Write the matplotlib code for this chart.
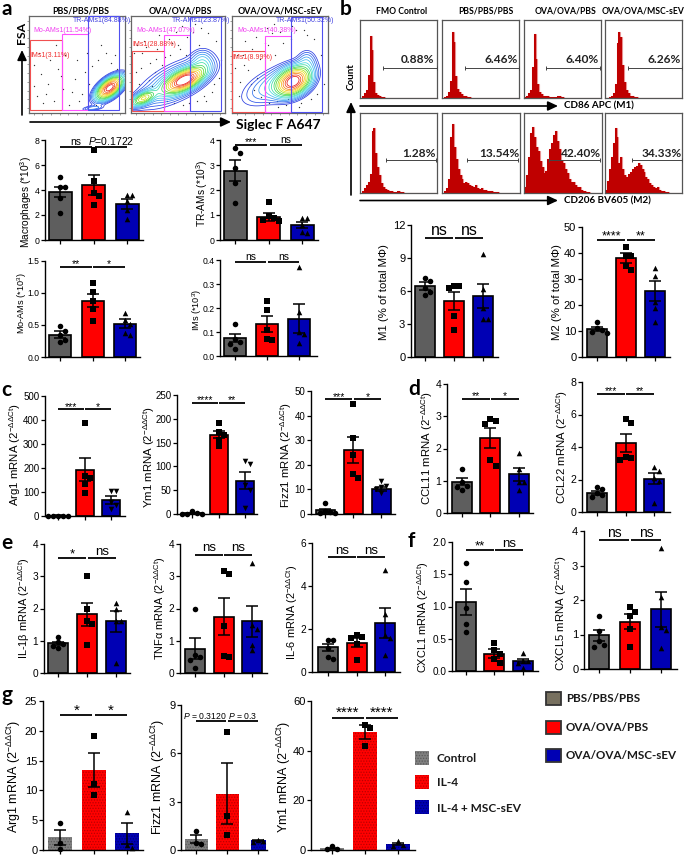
import numpy as np
import matplotlib
matplotlib.use("Agg")
import matplotlib.pyplot as plt
from matplotlib.patches import Rectangle

W, H = 685, 856

plt.rcParams["font.family"] = ["Liberation Sans", "DejaVu Sans"]
plt.rcParams["mathtext.fontset"] = "custom"
plt.rcParams["mathtext.rm"] = "Liberation Sans"
plt.rcParams["mathtext.it"] = "Liberation Sans:italic"
plt.rcParams["mathtext.bf"] = "Liberation Sans:bold"
plt.rcParams["mathtext.default"] = "regular"
plt.rcParams["hatch.linewidth"] = 0.6

GREY, RED, BLUE = "#5e5e5e", "#ff0000", "#0000b4"

# --- bar panels: mean, sem and single animals
macro_mean, macro_sem = [3.85, 4.4, 2.9], [0.4, 0.8, 0.4]
macro_pts = [[5.05, 4.25, 4.25, 3.4, 2.2], [7.2, 4.7, 3.75, 3.55, 2.8], [3.6, 3.6, 3.1, 2.4, 1.7]]
tr_mean, tr_sem = [2.77, 0.93, 0.6], [0.42, 0.15, 0.12]
tr_pts = [[3.7, 3.5, 2.87, 2.3, 1.5], [1.53, 0.95, 0.9, 0.8, 0.75], [0.87, 0.87, 0.6, 0.33, 0.3]]
mo_mean, mo_sem = [0.35, 0.88, 0.52], [0.06, 0.1, 0.07]
mo_pts = [[0.48, 0.4, 0.35, 0.27, 0.23], [1.15, 1.02, 0.88, 0.75, 0.57], [0.68, 0.58, 0.52, 0.37, 0.35]]
ims_mean, ims_sem = [0.075, 0.135, 0.155], [0.018, 0.033, 0.06]
ims_pts = [[0.135, 0.07, 0.06, 0.05, 0.03], [0.23, 0.19, 0.11, 0.07, 0.065], [0.37, 0.185, 0.1, 0.09, 0.055]]
m1_mean, m1_sem = [6.45, 5.1, 5.55], [0.35, 0.85, 1.1]
m1_pts = [[7.15, 6.95, 6.3, 5.9, 5.6], [6.45, 6.45, 6.3, 3.7, 2.45], [9.4, 6.2, 4.5, 3.45, 3.45]]
m2_mean, m2_sem = [10.8, 38, 25.5], [0.8, 1.9, 3.8]
m2_pts = [[13.3, 11, 10.2, 9.6, 9.3], [42.3, 39, 38.8, 35, 33.3], [34.2, 31, 21, 19, 13.3]]
arg_mean, arg_sem = [2, 192, 68], [1, 48, 16]
arg_pts = [[2, 2, 2, 2, 2], [388, 165, 160, 135, 95], [105, 105, 60, 45, 30]]
ym_mean, ym_sem = [2, 167, 70], [1, 8, 18]
ym_pts = [[6, 3, 1, 0, 0], [192, 173, 165, 155, 143], [112, 105, 60, 50, 12]]
fizz_mean, fizz_sem = [1.5, 26, 10.2], [0.7, 5.2, 0.9]
fizz_pts = [[4.3, 1.3, 0.9, 0.5, 0.3], [44.6, 30.8, 23.8, 16.1, 14.5], [13.5, 11.5, 11, 10, 8.5]]
ccl11_mean, ccl11_sem = [0.97, 2.33, 1.2], [0.11, 0.32, 0.2]
ccl11_pts = [[1.35, 0.95, 0.85, 0.8, 0.7], [2.9, 2.85, 2.75, 1.63, 1.47], [1.87, 1.37, 0.97, 0.95, 0.72]]
ccl22_mean, ccl22_sem = [1.17, 4.25, 2.05], [0.1, 0.57, 0.35]
ccl22_pts = [[1.55, 1.4, 1.15, 1.05, 0.9], [5.75, 5.45, 3.4, 3.35, 3.2], [2.75, 2.55, 2.1, 1.9, 0.55]]
il1_mean, il1_sem = [0.92, 1.82, 1.6], [0.05, 0.35, 0.33]
il1_pts = [[1.12, 0.95, 0.9, 0.85, 0.78], [3, 2, 1.62, 1.52, 0.87], [2.17, 1.98, 1.6, 1.6, 0.32]]
tnf_mean, tnf_sem = [0.75, 1.75, 1.6], [0.32, 0.58, 0.48]
tnf_pts = [[2, 0.55, 0.5, 0.4, 0.15], [3.15, 3.07, 1.47, 0.53, 0.5], [3.4, 1.5, 1.37, 0.88, 0.7]]
il6_mean, il6_sem = [1.15, 1.37, 2.28], [0.17, 0.2, 0.7]
il6_pts = [[1.5, 1.5, 1.1, 0.7, 0.6], [1.7, 1.65, 1.6, 1.3, 0.55], [4.75, 2.7, 1.7, 1.6, 0.8]]
cxcl1_mean, cxcl1_sem = [1.07, 0.27, 0.16], [0.2, 0.07, 0.03]
cxcl1_pts = [[1.67, 1.38, 0.97, 0.73, 0.6], [0.43, 0.33, 0.27, 0.19, 0.12], [0.28, 0.16, 0.15, 0.13, 0.05]]
cxcl5_mean, cxcl5_sem = [0.98, 1.37, 1.73], [0.16, 0.22, 0.5]
cxcl5_pts = [[1.53, 1.1, 0.8, 0.7, 0.65], [1.8, 1.65, 1.55, 1.15, 0.63], [3.5, 2.1, 1.22, 1.12, 0.62]]
garg_mean, garg_sem = [2.1, 13.4, 2.8], [1.2, 2.9, 1.75]
garg_pts = [[4.5, 1.1, 0.2], [19.2, 11, 9.3], [6.3, 0.9, 0.3]]
gfizz_mean, gfizz_sem = [0.68, 3.5, 0.6], [0.25, 1.9, 0.05]
gfizz_pts = [[1.15, 0.45, 0.4], [7.3, 2.1, 0.95], [0.65, 0.55, 0.5]]
gym_mean, gym_sem = [0.7, 47.5, 2.5], [0.3, 2.8, 0.5]
gym_pts = [[1.5, 0.4, 0.3], [50.2, 49, 42], [3.6, 2.2, 1.7]]

DD = "$^{-\\Delta\\Delta Ct}$"

# label, ticks, data, (left, right, y0, ytop), (c0, step, barw), label xy, bracket y, bracket texts, sizes (tick, label, sig)
PANELS = [
    dict(lab="Macrophages (*10$^{3}$)", ticks=[0, 2, 4, 6, 8], d=(macro_mean, macro_sem, macro_pts),
         box=(45, 143, 240, 140), bars=(60, 33.5, 23), lxy=(26, 202), by=7.45, sig=("ns", "$\\mathit{P}$=0.1722"), fs=(6.3, 7.3, 7.5)),
    dict(lab="TR-AMs (*10$^{3}$)", ticks=[0, 1, 2, 3, 4], d=(tr_mean, tr_sem, tr_pts),
         box=(220, 318, 240, 140), bars=(235, 33.5, 23), lxy=(202, 193), by=3.8, sig=("***", "ns"), fs=(6.3, 7.3, 7.5)),
    dict(lab="Mo-AMs (*10$^{3}$)", ticks=[0, 0.5, 1, 1.5], tl=["0.0", "0.5", "1.0", "1.5"], d=(mo_mean, mo_sem, mo_pts),
         box=(45, 140, 357, 261), bars=(60, 32.5, 22), lxy=(22.5, 303), by=1.41, sig=("**", "*"), fs=(6.2, 6.6, 7.5)),
    dict(lab="IMs (*10$^{3}$)", ticks=[0, 0.1, 0.2, 0.3, 0.4], tl=["0.0", "0.1", "0.2", "0.3", "0.4"], d=(ims_mean, ims_sem, ims_pts),
         box=(220, 317, 356, 260), bars=(235, 32, 22), lxy=(197, 310), by=0.39, sig=("ns", "ns"), fs=(6.2, 6.6, 7.5)),
    dict(lab="M1 (% of total M\u03a6)", ticks=[0, 3, 6, 9, 12], d=(m1_mean, m1_sem, m1_pts),
         box=(411, 498, 357, 225), bars=(425, 29, 20), lxy=(384, 292), by=10.8, sig=("ns", "ns"), fs=(8, 8.2, 11.5)),
    dict(lab="M2 (% of total M\u03a6)", ticks=[0, 10, 20, 30, 40, 50], d=(m2_mean, m2_sem, m2_pts),
         box=(582, 670, 357, 227), bars=(597, 29, 20), lxy=(557, 292), by=44.9, sig=("****", "**"), fs=(8, 8.2, 9)),
    dict(lab="Arg1 mRNA (2" + DD + ")", ticks=[0, 100, 200, 300, 400, 500], d=(arg_mean, arg_sem, arg_pts),
         box=(45, 125, 516, 396), bars=(58, 26.5, 18), lxy=(15.5, 455), by=444, sig=("***", "*"), fs=(7, 8.2, 7.5), m2="v"),
    dict(lab="Ym1 mRNA (2" + DD + ")", ticks=[0, 50, 100, 150, 200, 250], d=(ym_mean, ym_sem, ym_pts),
         box=(177, 257, 514, 395), bars=(192, 26.5, 18), lxy=(149.5, 457), by=234, sig=("****", "**"), fs=(7, 8.2, 7.5), m2="v"),
    dict(lab="Fizz1 mRNA (2" + DD + ")", ticks=[0, 10, 20, 30, 40, 50], d=(fizz_mean, fizz_sem, fizz_pts),
         box=(311, 395, 514, 391), bars=(325, 28, 19), lxy=(286, 455), by=46.6, sig=("***", "*"), fs=(7, 8.2, 7.5), m2="v"),
    dict(lab="CCL11 mRNA (2" + DD + ")", ticks=[0, 1, 2, 3, 4], d=(ccl11_mean, ccl11_sem, ccl11_pts),
         box=(447, 533, 513, 384), bars=(462, 28.5, 20), lxy=(427, 448), by=3.53, sig=("**", "*"), fs=(7.6, 8.2, 7.5)),
    dict(lab="CCL22 mRNA (2" + DD + ")", ticks=[0, 2, 4, 6, 8], d=(ccl22_mean, ccl22_sem, ccl22_pts),
         box=(582, 670, 512, 382), bars=(597, 28.5, 20), lxy=(562, 447), by=7.24, sig=("***", "**"), fs=(7.6, 8.2, 7.5)),
    dict(lab="IL-1\u03b2 mRNA (2" + DD + ")", ticks=[0, 1, 2, 3, 4], d=(il1_mean, il1_sem, il1_pts),
         box=(44, 130, 673, 544), bars=(58, 29, 20), lxy=(24, 608), by=3.57, sig=("*", "ns"), fs=(7.3, 7.9, 9.5)),
    dict(lab="TNF\u03b1 mRNA (2" + DD + ")", ticks=[0, 1, 2, 3, 4], d=(tnf_mean, tnf_sem, tnf_pts),
         box=(180, 267, 673, 544), bars=(195, 28.5, 20), lxy=(160, 608), by=3.67, sig=("ns", "ns"), fs=(7.3, 7.9, 9.5)),
    dict(lab="IL-6 mRNA (2" + DD + ")", ticks=[0, 2, 4, 6], d=(il6_mean, il6_sem, il6_pts),
         box=(312, 400, 672, 543), bars=(328, 28.5, 20), lxy=(292, 612), by=5.35, sig=("ns", "ns"), fs=(7.3, 7.9, 9.5)),
    dict(lab="CXCL1 mRNA (2" + DD + ")", ticks=[0, 0.5, 1, 1.5, 2], tl=["0.0", "0.5", "1.0", "1.5", "2.0"], d=(cxcl1_mean, cxcl1_sem, cxcl1_pts),
         box=(452, 538, 671, 542), bars=(466, 28.5, 20), lxy=(423, 617), by=1.87, sig=("**", "ns"), fs=(7.2, 7.9, 9.5)),
    dict(lab="CXCL5 mRNA (2" + DD + ")", ticks=[0, 1, 2, 3, 4], d=(cxcl5_mean, cxcl5_sem, cxcl5_pts),
         box=(584, 677, 669, 531), bars=(599, 31, 20), lxy=(561, 613), by=3.74, sig=("ns", "ns"), fs=(8, 8.2, 10)),
    dict(lab="Arg1 mRNA (2" + DD + ")", ticks=[0, 5, 10, 15, 20, 25], d=(garg_mean, garg_sem, garg_pts),
         box=(43, 143, 850, 701), bars=(60, 33.5, 24), lxy=(14, 777), by=22.6, sig=("*", "*"), fs=(8, 9, 11), dots=True),
    dict(lab="Fizz1 mRNA (2" + DD + ")", ticks=[0, 3, 6, 9], d=(gfizz_mean, gfizz_sem, gfizz_pts),
         box=(181, 267, 850, 705), bars=(196, 31, 23), lxy=(158, 777), by=8.0, sig=("$\\mathit{P}$ = 0.3120", "$\\mathit{P}$ = 0.3"), fs=(8, 9, 6.2), dots=True, bw2=15, sigdx=(-6, 0)),
    dict(lab="Ym1 mRNA (2" + DD + ")", ticks=[0, 20, 40, 60], d=(gym_mean, gym_sem, gym_pts),
         box=(311, 415, 850, 701), bars=(332, 33, 24), lxy=(284, 777), by=53.3, sig=("****", "****"), fs=(8, 9, 11), dots=True),
]

# --- flow plots: gating percentages, contour blobs (x, y, sigma long, sigma short, angle, height), stray events
flow_titles = ["PBS/PBS/PBS", "OVA/OVA/PBS", "OVA/OVA/MSC-sEV"]
flow_tr = ["TR-AMs1(84.88%)", "TR-AMs1(23.87%)", "TR-AMs1(50.32%)"]
flow_mo = ["Mo-AMs1(11.54%)", "Mo-AMs1(47.07%)", "Mo-AMs1(40.38%)"]
flow_ims = ["IMs1(3.11%)", "IMs1(28.88%)", "IMs1(8.99%)"]
flow_blobs = [
    [(0.84, 0.26, 0.095, 0.048, 38, 1.0), (0.66, 0.05, 0.07, 0.015, 6, 0.08)],
    [(0.57, 0.34, 0.13, 0.055, 25, 1.0), (0.13, 0.15, 0.08, 0.035, 25, 0.45), (0.46, 0.31, 0.27, 0.11, 27, 0.14),
     (0.76, 0.54, 0.07, 0.07, 30, 0.1)],
    [(0.64, 0.325, 0.11, 0.075, 30, 1.0), (0.44, 0.29, 0.22, 0.1, 25, 0.12), (0.78, 0.54, 0.06, 0.07, 0, 0.08)],
]
dots_x = [
    [0.05, 0.12, 0.2, 0.08, 0.3, 0.26, 0.35, 0.42, 0.15, 0.48, 0.55, 0.1, 0.22, 0.38, 0.62, 0.66, 0.52, 0.72, 0.8, 0.9,
     0.7, 0.58, 0.05, 0.18, 0.45, 0.6, 0.33, 0.75, 0.85, 0.92, 0.28, 0.5],
    [0.05, 0.12, 0.2, 0.28, 0.36, 0.44, 0.52, 0.6, 0.08, 0.16, 0.25, 0.33, 0.42, 0.5, 0.58, 0.03, 0.11, 0.19, 0.27, 0.38,
     0.46, 0.55, 0.66, 0.74, 0.82, 0.9, 0.7, 0.78, 0.86, 0.94, 0.62, 0.72, 0.14, 0.3, 0.48, 0.06, 0.22, 0.4, 0.88, 0.96,
     0.35, 0.54, 0.68, 0.8],
    [0.05, 0.13, 0.21, 0.29, 0.37, 0.45, 0.53, 0.61, 0.08, 0.17, 0.25, 0.34, 0.42, 0.5, 0.03, 0.11, 0.2, 0.3, 0.39, 0.47,
     0.56, 0.67, 0.75, 0.85, 0.93, 0.72, 0.82, 0.96, 0.63, 0.14, 0.26, 0.44, 0.07, 0.23, 0.36, 0.58, 0.89, 0.78, 0.7,
     0.48],
]
dots_y = [
    [0.5, 0.4, 0.3, 0.18, 0.45, 0.12, 0.25, 0.08, 0.1, 0.35, 0.2, 0.62, 0.55, 0.6, 0.3, 0.48, 0.12, 0.55, 0.62, 0.6,
     0.08, 0.42, 0.28, 0.2, 0.22, 0.62, 0.38, 0.7, 0.52, 0.45, 0.7, 0.55],
    [0.42, 0.62, 0.52, 0.66, 0.58, 0.72, 0.66, 0.78, 0.3, 0.68, 0.42, 0.5, 0.6, 0.7, 0.6, 0.62, 0.46, 0.34, 0.56, 0.12,
     0.1, 0.08, 0.84, 0.88, 0.82, 0.74, 0.12, 0.18, 0.22, 0.36, 0.1, 0.7, 0.74, 0.8, 0.84, 0.7, 0.28, 0.76, 0.3, 0.55,
     0.06, 0.9, 0.92, 0.12],
    [0.6, 0.5, 0.66, 0.56, 0.7, 0.6, 0.72, 0.76, 0.32, 0.44, 0.78, 0.72, 0.82, 0.84, 0.46, 0.6, 0.3, 0.16, 0.1, 0.12,
     0.08, 0.86, 0.86, 0.76, 0.6, 0.1, 0.14, 0.3, 0.9, 0.74, 0.36, 0.92, 0.18, 0.24, 0.88, 0.14, 0.2, 0.8, 0.06, 0.06],
]
contour_levels = [0.03, 0.045, 0.065, 0.09, 0.12, 0.16, 0.2, 0.26, 0.32, 0.4, 0.48, 0.58, 0.68, 0.8, 0.9]
contour_colors = ["#2a3ce0", "#2a50e8", "#2f73ee", "#3a9af0", "#45bdf0", "#45d8e0", "#3fdca8", "#3cd860", "#55d830",
                  "#a8e020", "#e8e020", "#f8b818", "#f88018", "#f04818", "#e81818"]

# --- histograms: bin heights in % of the frame, 40 bins
hist_m1 = [
    [0, 2, 6, 10, 30, 80, 62, 20, 7, 4, 2, 1, 1],
    [0, 1, 3, 8, 22, 84, 72, 28, 12, 8, 5, 3, 2, 1, 1],
    [1, 3, 6, 10, 40, 82, 50, 18, 8, 5, 3, 2, 2, 1, 1, 1, 1, 3, 2, 1, 1],
    [0, 0, 1, 3, 6, 18, 70, 84, 78, 42, 20, 10, 6, 3, 2, 1, 1],
]
hist_m2 = [
    [0, 2, 6, 10, 14, 24, 78, 81, 50, 32, 22, 12, 7, 5, 4, 2, 2, 1, 1, 3, 2, 1, 1],
    [0, 2, 6, 18, 70, 86, 58, 42, 30, 22, 18, 12, 14, 12, 10, 9, 8, 10, 6, 5, 6, 4, 4, 3, 2, 2, 1, 1, 1],
    [8, 22, 45, 75, 83, 70, 58, 52, 40, 32, 25, 28, 42, 55, 62, 72, 78, 65, 55, 40, 38, 30, 25, 18, 14, 14, 10, 7, 8, 4,
     3, 2, 1, 1],
    [4, 15, 30, 45, 62, 81, 70, 38, 45, 30, 22, 20, 24, 26, 30, 32, 34, 38, 35, 30, 26, 20, 17, 12, 10, 8, 6, 7, 4, 3,
     2, 1, 1],
]
hist_titles = ["FMO Control", "PBS/PBS/PBS", "OVA/OVA/PBS", "OVA/OVA/MSC-sEV"]
m1_labels = ["0.88%", "6.46%", "6.40%", "6.26%"]
m2_labels = ["1.28%", "13.54%", "42.40%", "34.33%"]

legend_mice = ["PBS/PBS/PBS", "OVA/OVA/PBS", "OVA/OVA/MSC-sEV"]
legend_cells = ["Control", "IL-4", "IL-4 + MSC-sEV"]


def add_axes(fig, left, right, bottom, top):
    # pixel box (y measured from the top of the image) to figure fractions
    return fig.add_axes([left / W, 1 - bottom / H, (right - left) / W, (bottom - top) / H])


def swarm(values, px_per_unit, px_per_cat, size=5.2):
    # spread overlapping points sideways like a GraphPad scatter
    placed = []
    out = np.zeros(len(values))
    for i, v in enumerate(values):
        for k in [0, 1, -1, 2, -2, 3, -3]:
            dx = k * size
            if all(np.hypot(dx - px, (v - pv) * px_per_unit) >= size for px, pv in placed):
                break
        placed.append((dx, v))
        out[i] = dx / px_per_cat
    return out


def bar_panel(fig, ov, p):
    left, right, y0, ytop = p["box"]
    c0, step, bw = p["bars"]
    means, sems, pts = p["d"]
    ax = add_axes(fig, left, right, y0, ytop)
    ax.patch.set_alpha(0)
    ax.set_xlim(-(c0 - left) / step, (right - c0) / step)
    ax.set_ylim(0, p["ticks"][-1])
    fs_tick, fs_lab, fs_sig = p["fs"]
    x = np.arange(3)
    widths = [bw / step, bw / step, p.get("bw2", bw) / step]
    if p.get("dots"):
        for xi, m, w, c, h in zip(x, means, widths, ["#808080", RED, BLUE], ["#5a5a5a", "#b80000", "#000070"]):
            ax.bar(xi, m, w, color=c, edgecolor=h, hatch="......", linewidth=0)
    else:
        ax.bar(x, means, widths, color=[GREY, RED, BLUE], edgecolor="black", linewidth=1.2)
    ax.errorbar(x, means, yerr=sems, fmt="none", ecolor="black", elinewidth=1.1, capsize=4.2, capthick=1.1, zorder=4)
    scale = (y0 - ytop) / p["ticks"][-1]
    for i, (vals, mk) in enumerate(zip(pts, ["o", "s", p.get("m2", "^")])):
        ax.scatter(i + swarm(vals, scale, step), vals, marker=mk, s=16, color="black",
                   linewidths=0, zorder=5, clip_on=False)
    ax.spines[["top", "right"]].set_visible(False)
    ax.spines[["left", "bottom"]].set_linewidth(1.0)
    ax.set_xticks(x, [""] * 3)
    ax.set_yticks(p["ticks"], p.get("tl", [str(t) for t in p["ticks"]]))
    ax.tick_params(length=2.6, width=0.9, pad=1.5, labelsize=fs_tick)
    ax.set_ylabel(p["lab"], fontsize=fs_lab, va="center")
    ax.yaxis.set_label_coords(p["lxy"][0], p["lxy"][1], transform=ov.transData)
    by = p["by"]
    sigdx = p.get("sigdx", (0, 0))
    for (a, b), txt, dx in zip([(0, 0.97), (1.03, 2)], p["sig"], sigdx):
        ax.plot([a, b], [by, by], color="black", lw=1.3, clip_on=False, solid_capstyle="butt")
        off = -1.6 if "*" in txt else 0.2
        ax.annotate(txt, xy=((a + b) / 2, by), xytext=(dx * 0.72, off), textcoords="offset points", ha="center",
                    va="bottom", fontsize=fs_sig, annotation_clip=False)
    return ax


def flow_panel(fig, box, i):
    ax = add_axes(fig, *box)
    ax.set_xlim(0, 1)
    ax.set_ylim(0, 1)
    gx, gy = np.meshgrid(np.linspace(0, 1, 240), np.linspace(0, 1, 240))
    field = np.zeros_like(gx)
    for cx, cy, s1, s2, ang, amp in flow_blobs[i]:
        t = np.deg2rad(ang)
        u = (gx - cx) * np.cos(t) + (gy - cy) * np.sin(t)
        v = -(gx - cx) * np.sin(t) + (gy - cy) * np.cos(t)
        field += amp * np.exp(-0.5 * (u / s1) ** 2 - 0.5 * (v / s2) ** 2)
    ax.contour(gx, gy, field, levels=contour_levels, colors=contour_colors, linewidths=0.55, zorder=2)
    ax.scatter(dots_x[i], dots_y[i], s=0.9, color="#333333", linewidths=0, zorder=1)
    ax.set_xticks(np.arange(0.05, 1, 0.09), [])
    ax.set_yticks(np.arange(0.05, 1, 0.09), [])
    ax.tick_params(length=1.6, width=0.4, color="#555555")
    for s in ax.spines.values():
        s.set_color("#666666")
        s.set_linewidth(0.9)
    return ax


def hist_panel(fig, box, heights):
    ax = add_axes(fig, *box)
    vals = np.zeros(40)
    vals[:len(heights)] = heights
    ax.stairs(vals, np.arange(41), color="#e89090", lw=0.8)
    ax.stairs(vals, np.arange(41), fill=True, color="#bf0000")
    ax.set_xlim(0, 40)
    ax.set_ylim(0, 100)
    ax.set_xticks([])
    ax.set_yticks([])
    for s in ax.spines.values():
        s.set_color("#555555")
        s.set_linewidth(0.9)
    return ax


fig = plt.figure(figsize=(W / 100, H / 100), dpi=100)
ov = fig.add_axes([0, 0, 1, 1], zorder=10)
ov.set_xlim(0, W)
ov.set_ylim(H, 0)
ov.axis("off")
ov.patch.set_alpha(0)

for p in PANELS:
    bar_panel(fig, ov, p)

LATO = "Lato"


def ltext(x, y, s, size, **kw):
    kw.setdefault("va", "center")
    kw.setdefault("ha", "left")
    kw.setdefault("fontweight", "bold")
    ov.text(x, y, s, fontsize=size, family=LATO, **kw)


def gate(x0, x1, top, bottom, color):
    ov.add_patch(Rectangle((x0, top), x1 - x0, bottom - top, fill=False, edgecolor=color, lw=0.8))


def arrow(x0, y0, x1, y1):
    ov.annotate("", xy=(x1, y1), xytext=(x0, y0), arrowprops=dict(arrowstyle="-|>,head_width=0.28,head_length=0.6",
                color="black", lw=1.2, shrinkA=0, shrinkB=0))


# panel a flow plots
flow_boxes = [(29, 125, 113, 16), (131, 225, 113, 16), (232, 328, 113, 16)]
title_x = [81, 180, 280]
red_c, mag_c, blu_c = "#f05050", "#ff50ff", "#5050f0"
gates_red = [(30, 62, 40), (132, 164, 51), (232.5, 265, 51)]
gates_mag = [(62, 88, 34), (164, 190.5, 35), (265, 291, 36)]
gates_blu = [(88, 119.5, 16), (190.5, 221.5, 17), (291, 322.5, 17)]
bottoms = [110, 111, 111.5]
tr_x, mo_x, ims_x = [72.5, 172, 276], [33, 136, 237], [30, 132.5, 232.5]
ims_y = [55, 44, 57]
for i, box in enumerate(flow_boxes):
    flow_panel(fig, box, i)
    ltext(title_x[i], 11, flow_titles[i], 6.4, ha="center")
    for (x0, x1, top), c in zip([gates_red[i], gates_mag[i], gates_blu[i]], [red_c, mag_c, blu_c]):
        gate(x0, x1, top, bottoms[i], c)
    ov.text(tr_x[i], 20.5, flow_tr[i], fontsize=5, color="#4040e0", va="center")
    ov.text(mo_x[i], 30.5, flow_mo[i], fontsize=5, color="#f040f0", va="center")
    ov.text(ims_x[i], ims_y[i], flow_ims[i], fontsize=5, color="#f03030", va="center")

ltext(21.5, 33, "FSA", 8.8, rotation=90, ha="center")
arrow(22, 115, 22, 50)
arrow(30, 122, 231, 122)
ltext(236, 125, "Siglec F A647", 10)

# panel b histograms
row1 = [(360, 437), (442, 519), (524, 601), (605, 682)]
row2 = [(360, 437), (442, 520), (524, 602), (605, 682)]
b_title_x = [402, 486, 566, 643]
g1 = [(383, 437, 434), (465, 519, 518), (546, 600, 599), (628, 682, 681)]
g2 = [(386, 436, 436), (467, 518, 519), (549, 600, 601), (632, 682, 682)]
for i in range(4):
    hist_panel(fig, (row1[i][0], row1[i][1], 98, 20), hist_m1[i])
    hist_panel(fig, (row2[i][0], row2[i][1], 193, 113), hist_m2[i])
    ltext(b_title_x[i], 11, hist_titles[i], 6.2, ha="center")
    ov.errorbar([g1[i][0], g1[i][1]], [68, 68], yerr=1.7, color="#444444", lw=0.7, elinewidth=0.7)
    ov.errorbar([g2[i][0], g2[i][1]], [160, 160], yerr=1.7, color="#444444", lw=0.7, elinewidth=0.7)
    ltext(g1[i][2], 59, m1_labels[i], 8.6, ha="right", color="#222222")
    ltext(g2[i][2], 153, m2_labels[i], 8.6, ha="right", color="#222222")
ltext(351, 77, "Count", 7, rotation=90, ha="center")
arrow(351, 195, 351, 102)
arrow(360, 106, 558, 106)
arrow(360, 200.5, 558, 200.5)
ltext(564, 106, "CD86 APC (M1)", 7.1)
ltext(564, 201, "CD206 BV605 (M2)", 7.1)

# panel letters
for s, x, y in [("a", 1, 9), ("b", 340, 9), ("c", 1, 390), ("d", 408, 389), ("e", 1, 543), ("f", 408, 541), ("g", 1, 695)]:
    ltext(x, y, s, 15, color="black")

# legends
for s, yc, face in zip(legend_mice, [698, 727.5, 755.5], ["#77705f", RED, BLUE]):
    ov.add_patch(Rectangle((546.5, yc - 6.5), 14.5, 13, facecolor=face, edgecolor="#333333", lw=1.3))
    ltext(566, yc, s, 8.4, color="#1a1a1a")
for s, yc, face, dark in zip(legend_cells, [758, 782, 807], ["#808080", RED, BLUE], ["#5a5a5a", "#b80000", "#000070"]):
    ov.add_patch(Rectangle((415, yc - 7), 14, 14, facecolor=face, edgecolor=dark, hatch="......", lw=0))
    ltext(437, yc + 1, s, 8.6, color="#1a1a1a")

fig.savefig("out.png", dpi=100)
